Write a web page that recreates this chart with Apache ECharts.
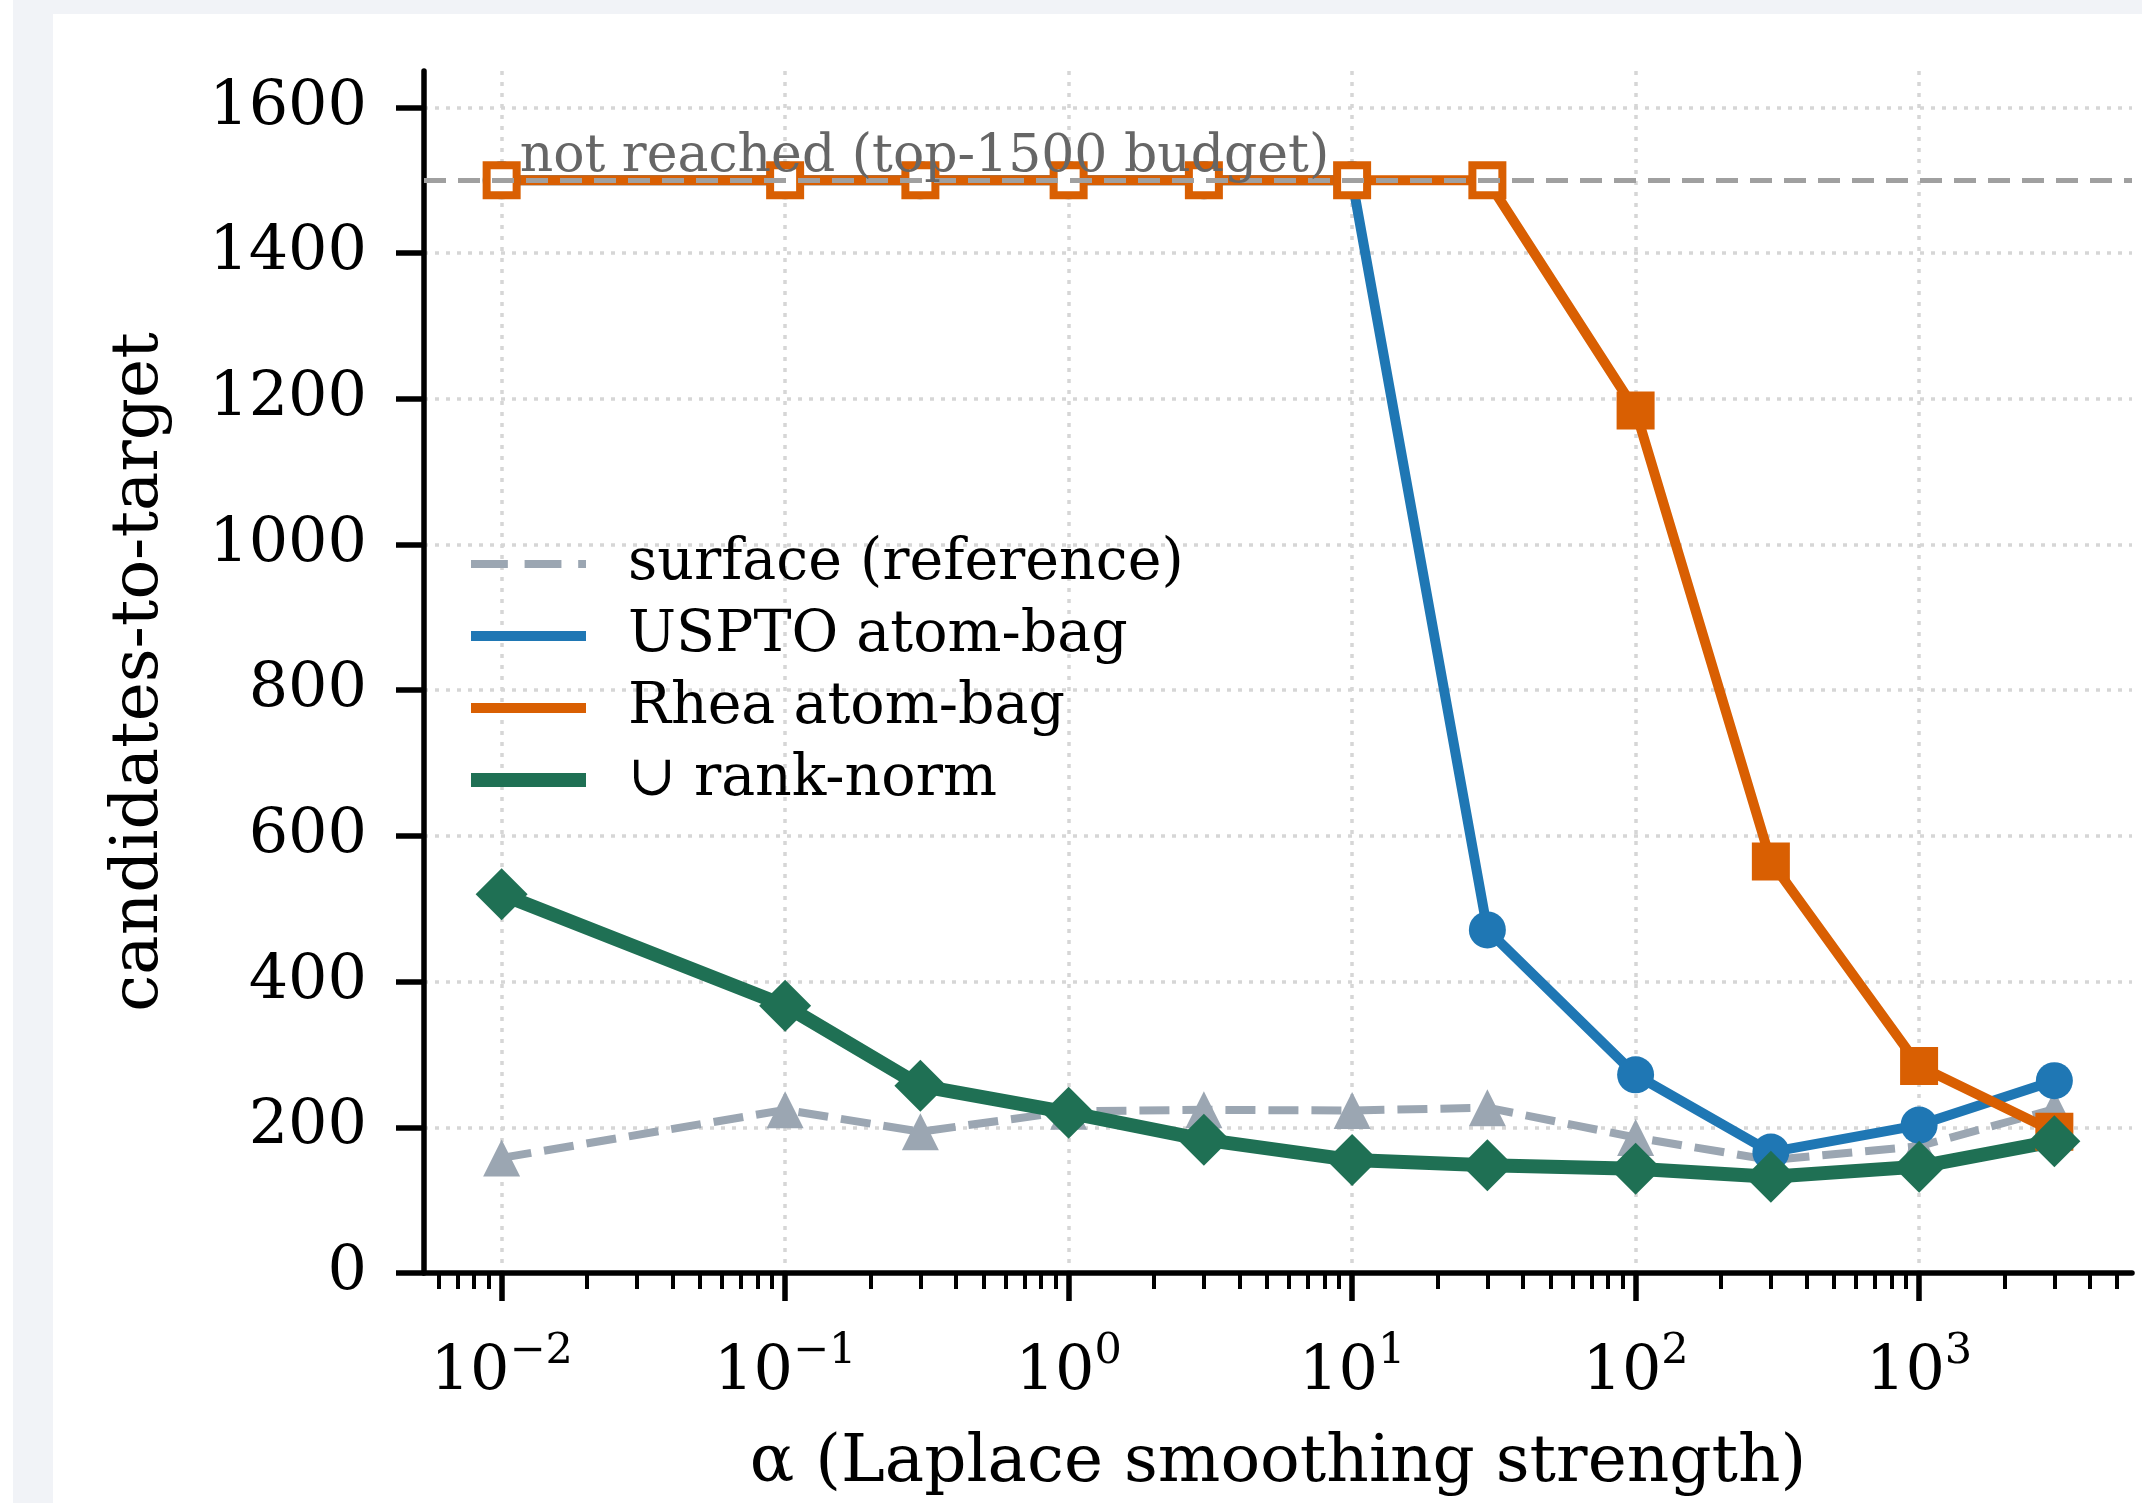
<!DOCTYPE html>
<html><head><meta charset="utf-8">
<script src="https://cdn.jsdelivr.net/npm/echarts@6/dist/echarts.min.js"></script>
<style>
html,body{margin:0;padding:0;width:2142px;height:1503px;overflow:hidden;background:#fff;}
#bg{position:absolute;left:13px;top:0;width:2129px;height:1503px;background:#f1f3f7;}
#card{position:absolute;left:53px;top:14px;width:2089px;height:1489px;background:#fff;}
#chart{position:absolute;left:0;top:0;width:2142px;height:1503px;}
</style></head><body>
<div id="bg"></div><div id="card"></div><div id="chart"></div>
<script>
// ---- data ----
const alphas = [0.01, 0.1, 0.3, 1, 3, 10, 30, 100, 300, 1000, 3000];
const surfaceRef = [158, 224, 194, 222, 224, 223, 227, 186, 155, 174, 225];
const usptoAtomBag = [1500, 1500, 1500, 1500, 1500, 1500, 471, 272, 166, 203, 264];
const rheaAtomBag = [1500, 1500, 1500, 1500, 1500, 1500, 1500, 1184, 565, 284, 194];
const unionRankNorm = [520, 367, 257, 220, 183, 155, 148, 143, 132, 146, 181];
const budget = 1500;
const seriesNames = ['surface (reference)', 'USPTO atom-bag', 'Rhea atom-bag', '\u222A rank-norm'];
const budgetLabel = 'not reached (top-1500 budget)';
const xMajorTicks = [0.01, 0.1, 1, 10, 100, 1000];
const xMajorExponents = ['\u22122', '\u22121', '0', '1', '2', '3'];
const xMinorTicks = [0.006, 0.007, 0.008, 0.009,
  0.02, 0.03, 0.04, 0.05, 0.06, 0.07, 0.08, 0.09,
  0.2, 0.3, 0.4, 0.5, 0.6, 0.7, 0.8, 0.9,
  2, 3, 4, 5, 6, 7, 8, 9,
  20, 30, 40, 50, 60, 70, 80, 90,
  200, 300, 400, 500, 600, 700, 800, 900,
  2000, 3000, 4000, 5000];
const yTicks = [0, 200, 400, 600, 800, 1000, 1200, 1400, 1600];
const xRange = [0.0053226, 5636.6];
const yRange = [0, 1650];

// ---- style ----
const FONT = 'DejaVu Serif';
const C = { surface: '#9ba6b2', uspto: '#1f77b4', rhea: '#d95f02', union: '#1f7054', grid: '#d6d6d6', budget: '#a0a0a0' };

function pairs(vals) { return alphas.map((a, i) => [a, vals[i]]); }
function censoredData(vals, color) {
  return alphas.map((a, i) => {
    if (vals[i] >= budget) {
      return { value: [a, vals[i]], symbolSize: 30, itemStyle: { color: '#ffffff', borderColor: color, borderWidth: 8 } };
    }
    return { value: [a, vals[i]] };
  });
}
function majorLabel(v) {
  let idx = xMajorTicks.findIndex(t => Math.abs(t - v) / t < 1e-6);
  if (idx < 0) return '';
  return '{b|10}{s|' + xMajorExponents[idx] + '}';
}

const chart = echarts.init(document.getElementById('chart'), null, { renderer: 'canvas' });
chart.setOption({
  animation: false,
  backgroundColor: 'transparent',
  grid: { left: 424, right: 10, top: 71, bottom: 230, containLabel: false },
  xAxis: [{
    type: 'log', logBase: 10, min: xRange[0], max: xRange[1], position: 'bottom',
    axisLine: { show: true, lineStyle: { color: '#000', width: 5.5 } },
    axisTick: { show: true, length: 28, lineStyle: { color: '#000', width: 5.5 }, customValues: xMajorTicks },
    axisLabel: {
      customValues: xMajorTicks, margin: 57, formatter: majorLabel,
      rich: {
        b: { fontFamily: FONT, fontSize: 62, lineHeight: 86, color: '#000' },
        s: { fontFamily: FONT, fontSize: 43, lineHeight: 43, verticalAlign: 'top', color: '#000' }
      }
    },
    splitLine: { show: true, lineStyle: { color: C.grid, width: 3.5, type: [4, 7] } },
    minorTick: { show: false }, minorSplitLine: { show: false },
    name: '\u03B1 (Laplace smoothing strength)', nameLocation: 'middle', nameGap: 158,
    nameTextStyle: { fontFamily: FONT, fontSize: 66, color: '#000' }
  }, {
    type: 'log', logBase: 10, min: xRange[0], max: xRange[1], position: 'bottom', offset: 0,
    axisLine: { show: false },
    axisTick: { show: true, length: 16, lineStyle: { color: '#000', width: 4 }, customValues: xMinorTicks },
    axisLabel: { show: false },
    splitLine: { show: false }
  }],
  yAxis: {
    type: 'value', min: yRange[0], max: yRange[1], interval: 200,
    axisLine: { show: true, lineStyle: { color: '#000', width: 5.5 } },
    axisTick: { show: true, length: 28, lineStyle: { color: '#000', width: 5.5 }, customValues: yTicks },
    axisLabel: { customValues: yTicks, margin: 57, fontFamily: FONT, fontSize: 62, color: '#000',
      formatter: v => String(v) },
    splitLine: { show: true, lineStyle: { color: C.grid, width: 3.5, type: [4, 7] } },
    name: 'candidates-to-target', nameLocation: 'middle', nameGap: 251,
    nameTextStyle: { fontFamily: FONT, fontSize: 66, color: '#000' }
  },
  legend: {
    orient: 'vertical', left: 471, top: 528, padding: 0,
    itemWidth: 115, itemHeight: 14, itemGap: 0, symbolKeepAspect: true,
    selectedMode: false,
    itemStyle: { borderWidth: 0 },
    textStyle: { fontFamily: FONT, fontSize: 57, color: '#000', lineHeight: 72, padding: [0, 0, 0, 37] },
    data: [
      { name: seriesNames[0], icon: 'path://M0,0h33v7.2h-33z M48,0h33v7.2h-33z M96,0h7v7.2h-7z' },
      { name: seriesNames[1], icon: 'path://M0,0h115v10h-115z' },
      { name: seriesNames[2], icon: 'path://M0,0h115v10h-115z' },
      { name: seriesNames[3], icon: 'path://M0,0h115v14h-115z' }
    ]
  },
  series: [
    {
      name: 'budget', type: 'line', data: [], z: 1, silent: true,
      markLine: {
        silent: true, symbol: 'none', label: { show: false },
        lineStyle: { color: C.budget, width: 5, type: [22, 12] },
        data: [{ yAxis: budget }]
      }
    },
    {
      name: seriesNames[0], type: 'line', color: C.surface, data: pairs(surfaceRef),
      symbol: 'triangle', symbolSize: 37,
      lineStyle: { width: 8, type: [30, 13], cap: 'butt', join: 'round' }, itemStyle: { color: C.surface }
    },
    {
      name: seriesNames[1], type: 'line', color: C.uspto, data: censoredData(usptoAtomBag, C.uspto),
      symbol: 'circle', symbolSize: 37,
      lineStyle: { width: 10, join: 'round' }, itemStyle: { color: C.uspto }
    },
    {
      name: seriesNames[2], type: 'line', color: C.rhea, data: censoredData(rheaAtomBag, C.rhea),
      symbol: 'rect', symbolSize: 38,
      lineStyle: { width: 10, join: 'round' }, itemStyle: { color: C.rhea },
      markPoint: {
        silent: true, symbol: 'circle', symbolSize: 0,
        label: { show: true, position: 'right', distance: 0, offset: [18, -23], formatter: budgetLabel,
          fontFamily: FONT, fontSize: 52, color: '#666666' },
        data: [{ coord: [alphas[0], budget] }]
      }
    },
    {
      name: seriesNames[3], type: 'line', color: C.union, data: pairs(unionRankNorm),
      symbol: 'diamond', symbolSize: 52,
      lineStyle: { width: 14, join: 'round' }, itemStyle: { color: C.union }
    }
  ]
});
</script></body></html>
